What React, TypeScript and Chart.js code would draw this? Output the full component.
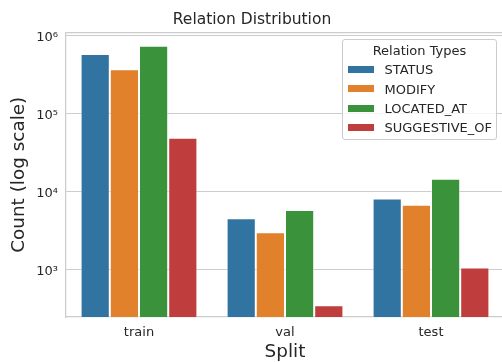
import { useEffect, useRef } from "react";
import { Chart, registerables } from "chart.js";

Chart.register(...registerables);

// Relation counts per dataset split (log-scaled y axis)
const splits = ["train", "val", "test"];
const relationTypes = ["STATUS", "MODIFY", "LOCATED_AT", "SUGGESTIVE_OF"];
const statusCounts = [575000, 4500, 8100];
const modifyCounts = [366000, 2980, 6700];
const locatedAtCounts = [736000, 5750, 14500];
const suggestiveOfCounts = [48700, 345, 1050];
const yTickValues = [1e3, 1e4, 1e5, 1e6];
const yMin = 244;
const yMax = 1.086e6;

const palette = ["#3274a1", "#e1812c", "#3a923a", "#c03d3e"];
const seriesValues = [statusCounts, modifyCounts, locatedAtCounts, suggestiveOfCounts];

const FONT = "DejaVu Sans";
const TEXT = "#262626";
const GRID = "#cccccc";

const SUPERSCRIPT: Record<string, string> = {
  "0": "⁰", "1": "¹", "2": "²", "3": "³", "4": "⁴",
  "5": "⁵", "6": "⁶", "7": "⁷", "8": "⁸", "9": "⁹", "-": "⁻",
};

function powerLabel(v: number): string {
  if (!yTickValues.includes(v)) return "";
  const exp = String(Math.round(Math.log10(v)));
  return "10" + exp.split("").map((c) => SUPERSCRIPT[c] ?? c).join("");
}

// Legend frame geometry (page pixels)
const LEGEND_LEFT = 342;
const LEGEND_TOP = 38.5;
const LEGEND_W = 155;
const LEGEND_H = 101;

const textStyle = {
  position: "absolute" as const,
  fontFamily: `"${FONT}"`,
  fontSize: 13,
  lineHeight: "15px",
  color: TEXT,
  whiteSpace: "nowrap" as const,
};

function Legend() {
  return (
    <>
      <div
        style={{
          position: "absolute",
          left: LEGEND_LEFT,
          top: LEGEND_TOP,
          width: LEGEND_W,
          height: LEGEND_H,
          boxSizing: "border-box",
          border: `1px solid ${GRID}`,
          borderRadius: 3,
          background: "rgba(255,255,255,0.8)",
        }}
      />
      <div style={{ ...textStyle, left: LEGEND_LEFT, width: LEGEND_W, textAlign: "center", top: LEGEND_TOP + 16.2 - 12 }}>
        Relation Types
      </div>
      {relationTypes.map((name, i) => {
        const cy = LEGEND_TOP + 31 + i * 19.35;
        return (
          <div key={name}>
            <div
              style={{
                position: "absolute",
                left: LEGEND_LEFT + 5.5,
                top: cy - 3.5,
                width: 26,
                height: 7,
                background: palette[i],
              }}
            />
            <div style={{ ...textStyle, left: LEGEND_LEFT + 42.5, top: cy + 4.7 - 12 }}>{name}</div>
          </div>
        );
      })}
    </>
  );
}

export default function App() {
  const canvasRef = useRef<HTMLCanvasElement | null>(null);

  useEffect(() => {
    if (!canvasRef.current) return;
    const chart = new Chart(canvasRef.current, {
      type: "bar",
      data: {
        labels: splits,
        datasets: relationTypes.map((name, i) => ({
          label: name,
          data: seriesValues[i],
          backgroundColor: palette[i],
          borderColor: "rgba(255,255,255,0.55)",
          borderWidth: 1,
          categoryPercentage: 0.8,
          barPercentage: 1.0,
        })),
      },
      options: {
        responsive: false,
        animation: false,
        devicePixelRatio: 1,
        // the plot area runs a little past the right edge of the visible page
        layout: { padding: { left: 0, right: 2, top: 0, bottom: 0 } },
        plugins: {
          legend: { display: false },
          tooltip: { enabled: false },
          title: {
            display: true,
            text: "Relation Distribution",
            color: TEXT,
            font: { family: FONT, size: 15.5, weight: "normal", lineHeight: 1.2 },
            padding: { top: 10.8, bottom: 3.1 },
          },
        },
        scales: {
          x: {
            type: "category",
            offset: true,
            grid: { display: false, drawTicks: false },
            border: { display: true, color: GRID, width: 1.25 },
            ticks: {
              color: TEXT,
              font: { family: FONT, size: 13 },
              padding: 8,
              maxRotation: 0,
            },
            title: {
              display: true,
              text: "Split",
              color: TEXT,
              font: { family: FONT, size: 18.4, lineHeight: 1 },
              padding: { top: 0, bottom: 0.2 },
            },
            afterFit(scale: any) {
              scale.height = 45;
            },
          },
          y: {
            type: "logarithmic",
            min: yMin,
            max: yMax,
            bounds: "data",
            grid: {
              color: GRID,
              // the line at the axis maximum is the top spine of the frame
              lineWidth: (ctx: any) => (ctx.tick && ctx.tick.value === yMax ? 1.25 : 1),
              drawTicks: false,
            },
            border: { display: true, color: GRID, width: 1.25 },
            ticks: {
              color: TEXT,
              font: { family: FONT, size: 13 },
              padding: 8,
              labelOffset: 2,
              callback: (v: any) => powerLabel(Number(v)),
            },
            afterBuildTicks(scale: any) {
              scale.ticks = [...yTickValues, yMax].map((v) => ({ value: v }));
            },
            title: {
              display: true,
              text: "Count (log scale)",
              color: TEXT,
              font: { family: FONT, size: 18.4, lineHeight: 1 },
              padding: { top: 10.4, bottom: 0 },
            },
            afterFit(scale: any) {
              scale.width = 66;
            },
          },
        },
      },
    });
    return () => chart.destroy();
  }, []);

  return (
    <div
      style={{
        position: "fixed",
        left: 0,
        top: 0,
        width: 502,
        height: 362,
        overflow: "hidden",
        background: "#ffffff",
      }}
    >
      <canvas ref={canvasRef} width={506} height={362} style={{ display: "block" }} />
      <Legend />
    </div>
  );
}
